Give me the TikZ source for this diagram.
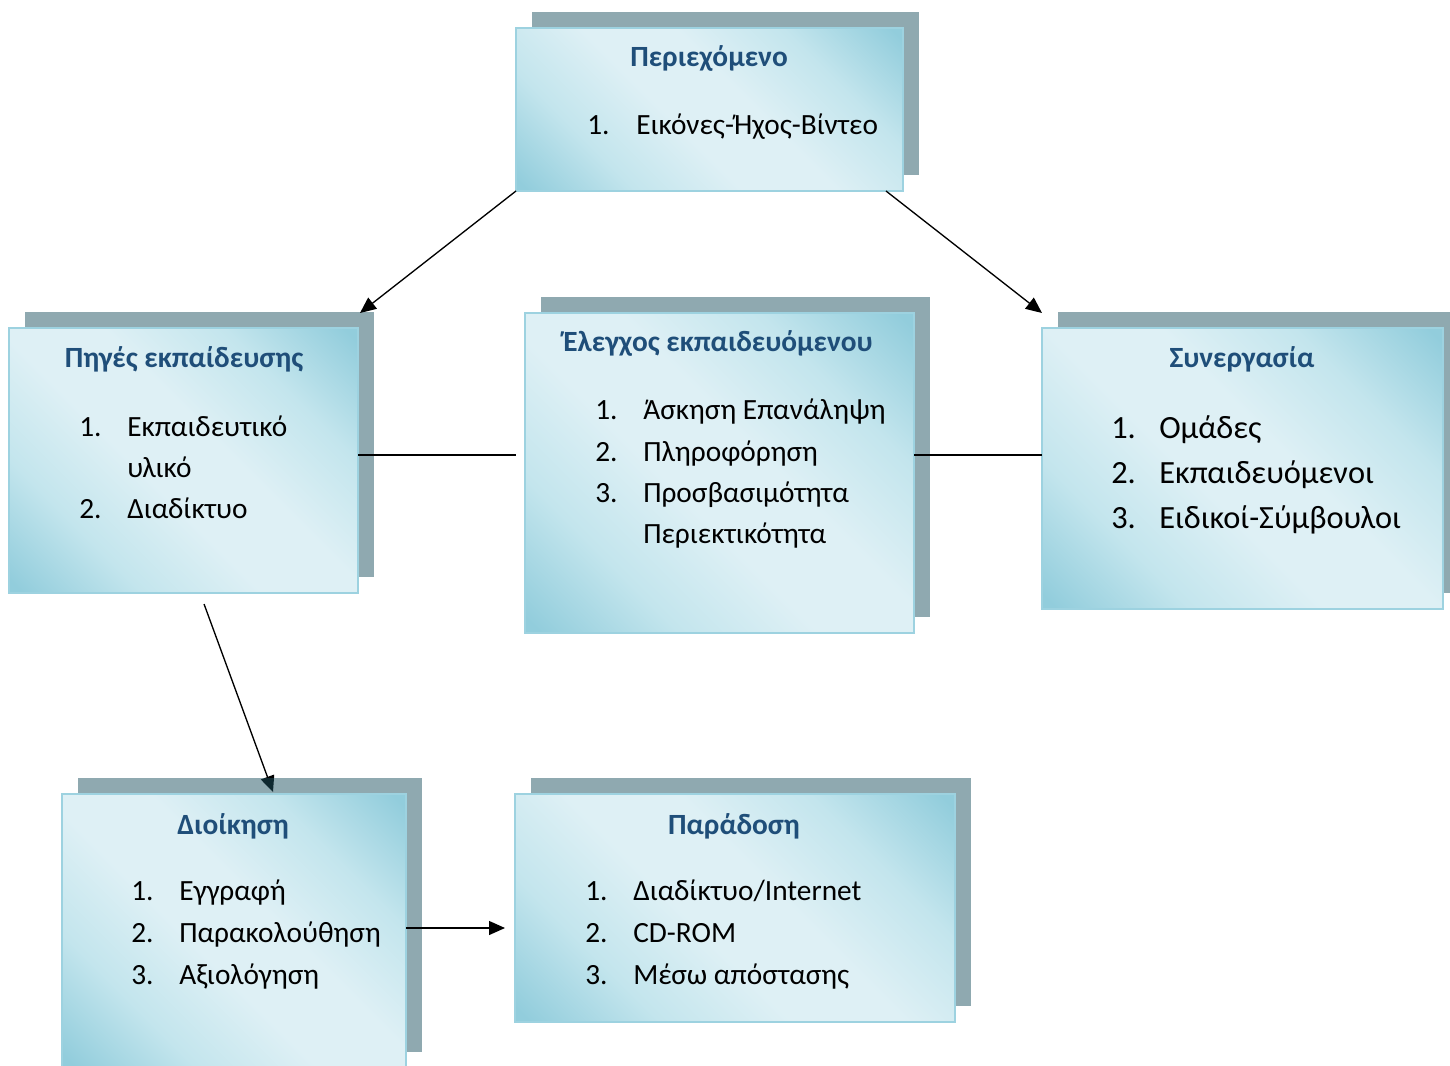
\documentclass[tikz,border=0pt]{standalone}
\usepackage{fontspec}
\setmainfont{Carlito}
\usetikzlibrary{arrows.meta,shadows,calc}

\definecolor{boxlight}{HTML}{DEF0F5}
\definecolor{boxmid}{HTML}{C3E5ED}
\definecolor{boxdark}{HTML}{92CDDC}
\definecolor{boxedge}{HTML}{9DD2E0}
\definecolor{shadecol}{HTML}{1F5361}
\definecolor{titleblue}{HTML}{1F4E79}

% soft diagonal glow: light along one diagonal, deeper blue in the other two corners
\pgfdeclarehorizontalshading{boxglow}{100bp}{color(0bp)=(boxdark); color(16bp)=(boxdark); color(30bp)=(boxmid); color(44bp)=(boxlight); color(56bp)=(boxlight); color(70bp)=(boxmid); color(84bp)=(boxdark); color(100bp)=(boxdark)}

\pgfdeclarelayer{under}
\pgfsetlayers{under,main}

% one numbered row: number and text as two named nodes, in a given style
\newcommand\listrow[7]{%
  \node[#7] (#1n) at (#2,#4) {#5};
  \node[#7] (#1t) at (#3,#4) {#6};}

\begin{document}
\begin{tikzpicture}[x=0.75pt,y=-0.75pt,
  panel/.style={draw=boxedge, line width=1.5pt, shading=boxglow, shading angle=45,
    inner sep=0pt, outer sep=0pt, anchor=north west,
    general shadow={fill=shadecol, fill opacity=0.5, shadow xshift=12pt, shadow yshift=12pt}},
  title/.style={font=\fontsize{22}{26}\selectfont\bfseries, text=titleblue, inner sep=0pt, anchor=base},
  item/.style={font=\fontsize{22}{26}\selectfont, inner sep=0pt, anchor=base west},
  bigitem/.style={font=\fontsize{24.3}{28}\selectfont, inner sep=0pt, anchor=base west},
  link/.style={line width=1pt, draw=black},
  arrow/.style={link, -{Triangle[length=12pt,width=10.5pt]}}]

\useasboundingbox (0,0) rectangle (1450,1066);

% panels
\node[panel, minimum width=387*0.75pt, minimum height=163*0.75pt] (cont) at (516,28) {};
\node[panel, minimum width=349*0.75pt, minimum height=265*0.75pt] (src) at (9,328) {};
\node[panel, minimum width=389*0.75pt, minimum height=320*0.75pt] (ctl) at (525,313) {};
\node[panel, minimum width=401*0.75pt, minimum height=281*0.75pt] (coop) at (1042,328) {};
\node[panel, minimum width=344*0.75pt, minimum height=274*0.75pt] (adm) at (62,794) {};
\node[panel, minimum width=440*0.75pt, minimum height=228*0.75pt] (del) at (515,794) {};

% titles
\node[title] (contT) at (709,67) {Περιεχόμενο};
\node[title] (srcT) at (184,368) {Πηγές εκπαίδευσης};
\node[title] (ctlT) at (718,352) {Έλεγχος εκπαιδευόμενου};
\node[title] (coopT) at (1242,368) {Συνεργασία};
\node[title] (admT) at (233,834) {Διοίκηση};
\node[title] (delT) at (734,834) {Παράδοση};

% lists
\listrow{c1}{587}{636}{135}{1.}{Εικόνες-Ήχος-Βίντεο}{item}

\listrow{s1}{79}{127}{436}{1.}{Εκπαιδευτικό}{item}
\node[item] (s1b) at (127,477) {υλικό};
\listrow{s2}{79}{127}{518}{2.}{Διαδίκτυο}{item}

\listrow{e1}{595}{643}{420}{1.}{Άσκηση Επανάληψη}{item}
\listrow{e2}{595}{643}{461}{2.}{Πληροφόρηση}{item}
\listrow{e3}{595}{643}{502}{3.}{Προσβασιμότητα}{item}
\node[item] (e3b) at (643,543) {Περιεκτικότητα};

\listrow{g1}{1111}{1159}{438}{1.}{Ομάδες}{bigitem}
\listrow{g2}{1111}{1159}{483}{2.}{Εκπαιδευόμενοι}{bigitem}
\listrow{g3}{1111}{1159}{528}{3.}{Ειδικοί-Σύμβουλοι}{bigitem}

\listrow{a1}{131}{179}{900}{1.}{Εγγραφή}{item}
\listrow{a2}{131}{179}{942}{2.}{Παρακολούθηση}{item}
\listrow{a3}{131}{179}{984}{3.}{Αξιολόγηση}{item}

\listrow{d1}{585}{633}{900}{1.}{Διαδίκτυο/Internet}{item}
\listrow{d2}{585}{633}{942}{2.}{CD-ROM}{item}
\listrow{d3}{585}{633}{984}{3.}{Μέσω απόστασης}{item}

% connectors
\draw[arrow] (cont.south west) -- ([xshift=1.5pt,yshift=11.25pt]src.north east);
\draw[arrow] ([xshift=-12.75pt]cont.south east) -- ([yshift=11.25pt]coop.north west);

\coordinate (gapL) at ($(ctl.west)+(-9,0)$);
\draw[link] ([yshift=4.1pt]src.east) coordinate (j0) -- (j0 -| gapL);
\draw[link] (ctl.east |- j0) -- (coop.west |- j0);

\draw[arrow] ([yshift=2.25pt]adm.east) coordinate (j2) -- ($(j2 -| del.west)+(-10,0)$);

\begin{pgfonlayer}{under}
\draw[arrow] ([xshift=15.4pt,yshift=-8.25pt]src.south) -- ([xshift=29.25pt,yshift=1.5pt]adm.north);
\end{pgfonlayer}

\end{tikzpicture}
\end{document}
